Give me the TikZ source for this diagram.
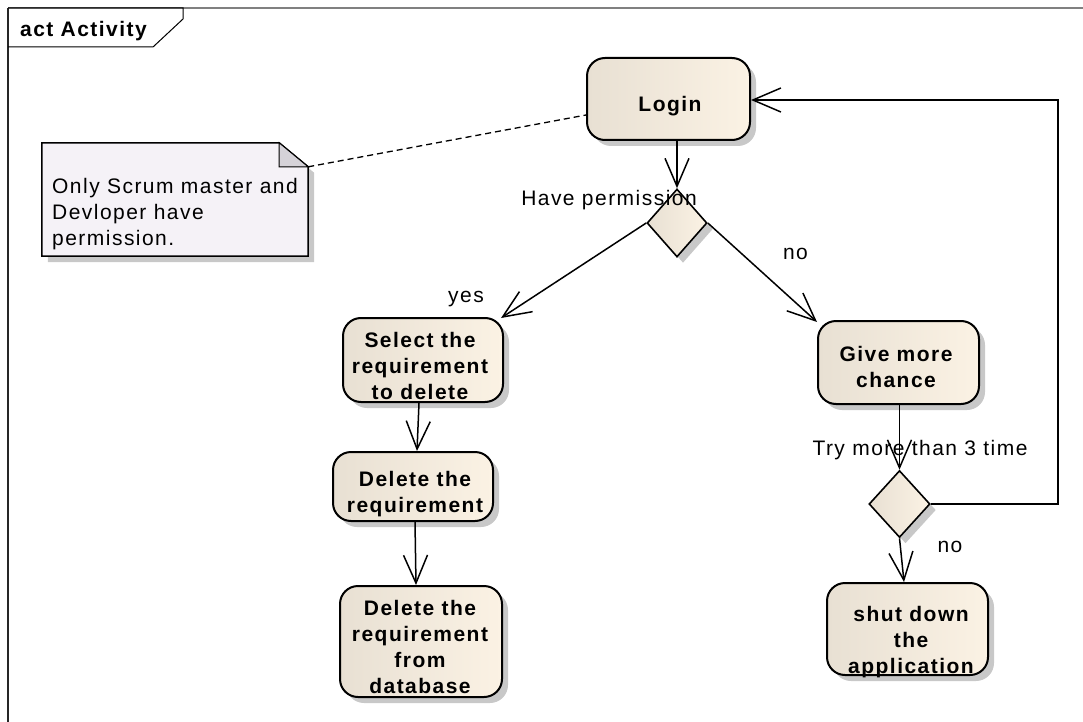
\documentclass[tikz,border=0pt]{standalone}
\usepackage{fontspec}
\setmainfont{Liberation Sans}[LetterSpace=7]
\usetikzlibrary{arrows.meta,shapes.geometric,calc,shadows}

\definecolor{nodeL}{RGB}{232,224,211}
\definecolor{nodeR}{RGB}{251,242,228}
\definecolor{shadowgrey}{RGB}{200,200,200}
\definecolor{notefill}{RGB}{245,242,247}
\definecolor{foldfill}{RGB}{213,210,216}
\definecolor{framegrey}{RGB}{128,128,128}

\begin{document}
\begin{tikzpicture}[x=1pt,y=-1pt,
  shadowed/.style={drop shadow={shadow xshift=6pt,shadow yshift=-6pt,fill=shadowgrey,opacity=1}},
  actbox/.style={rectangle,rounded corners=18pt,draw=black,line width=2pt,
    left color=nodeL,right color=nodeR,inner sep=0pt,shadowed},
  decision/.style={diamond,draw=black,line width=1.6pt,left color=nodeL,right color=nodeR,
    inner sep=0pt,minimum width=60pt,minimum height=68pt,shadowed},
  acttext/.style={inner sep=0pt,align=center,font=\fontsize{21}{26}\selectfont\bfseries},
  guard/.style={inner sep=0pt,font=\fontsize{21}{26}\selectfont},
  flow/.style={draw=black,line width=1.5pt,-{Straight Barb[length=28pt,width=24pt,line width=1.5pt]}},
  anchorline/.style={draw=black,line width=1.3pt,dash pattern=on 6pt off 4pt}]

\useasboundingbox (0,0) rectangle (1083,722);

% activity frame and its name tab
\draw[framegrey,line width=1.5pt] (8,8) -- (1083,8);
\draw[black!85,line width=1.5pt] (8,8) -- (8,722);
\draw[black,line width=1pt] (8,8) -- (183,8) -- (183,19) -- (153,47) -- (8,47);
\node[acttext] (frametitle) at (83.5,31.5) {act Activity};

% actions
\node[actbox,minimum width=163pt,minimum height=82pt] (login) at (668.5,99) {};
\node[acttext] (loginT) at (670,106) {Login};

\node[actbox,minimum width=160pt,minimum height=84pt] (select) at (423,360) {};
\node[acttext] (selectT) at (420,366) {Select the\\requirement\\to delete};

\node[actbox,minimum width=160pt,minimum height=69pt] (delete) at (413,486.5) {};
\node[acttext] (deleteT) at (415,494) {Delete the\\requirement};

\node[actbox,minimum width=162pt,minimum height=111pt] (dbdel) at (421,641.5) {};
\node[acttext] (dbdelT) at (420,647) {Delete the\\requirement\\from\\database};

\node[actbox,minimum width=161pt,minimum height=83pt] (chance) at (898.5,362.5) {};
\node[acttext] (chanceT) at (896,367) {Give more\\chance};

\node[actbox,minimum width=161pt,minimum height=92pt] (shut) at (907.5,629) {};
\node[acttext] (shutT) at (911,642) {shut down\\the\\application};

% decisions
\node[decision] (perm) at (677,223) {};
\node[decision,minimum width=61pt,minimum height=67pt] (tries) at (899.5,504) {};

% note
\node[inner sep=0pt,minimum width=266pt,minimum height=113pt] (note) at (175,199.5) {};
\fill[shadowgrey] ($(note.north west)+(6,6)$) -- ($(note.north east)+(-23,6)$)
  -- ($(note.north east)+(6,30)$) -- ($(note.south east)+(6,6)$) -- ($(note.south west)+(6,6)$) -- cycle;
\draw[black,line width=1.5pt,fill=notefill] (note.north west) -- ($(note.north east)+(-29,0)$)
  -- ($(note.north east)+(0,24)$) -- (note.south east) -- (note.south west) -- cycle;
\draw[black,line width=1pt,fill=foldfill] ($(note.north east)+(-29,0)$) -- ($(note.north east)+(-29,24)$)
  -- ($(note.north east)+(0,24)$) -- cycle;
\node[guard,anchor=north west,align=left] (noteT) at (52,178) {Only Scrum master and\\Devloper have\\permission.};
\draw[anchorline] ($(note.north east)+(0,24)$) -- ($(login.west)+(0,16)$);

% control flows
\draw[flow] (perm.north |- login.south) -- (perm.north);
\node[guard] (permG) at (609,200) {Have permission};
\draw[flow] (perm.west) -- ($(select.north east)+(-3,1)$);
\node[guard] (yesG) at (466,299) {yes};
\draw[flow] (perm.east) -- ($(chance.north west)+(0,2)$);
\node[guard] (noG1) at (795.5,254) {no};
\draw[flow] ($(select.south)+(-4,0)$) -- ($(delete.north)+(4,0)$);
\draw[flow] ($(delete.south)+(2,0)$) -- ($(dbdel.north)+(-5,0)$);
\draw[flow] (tries.north |- chance.south) -- (tries.north);
\node[guard] (triesG) at (920,450) {Try more than 3 time};
\draw[flow] (tries.south) -- ($(shut.north)+(-3.5,0)$);
\node[guard] (noG2) at (950,547) {no};
\draw[flow] (tries.east) -- (1058,504) -- (1058,100) -- (login.east |- 0,100);

\end{tikzpicture}
\end{document}
